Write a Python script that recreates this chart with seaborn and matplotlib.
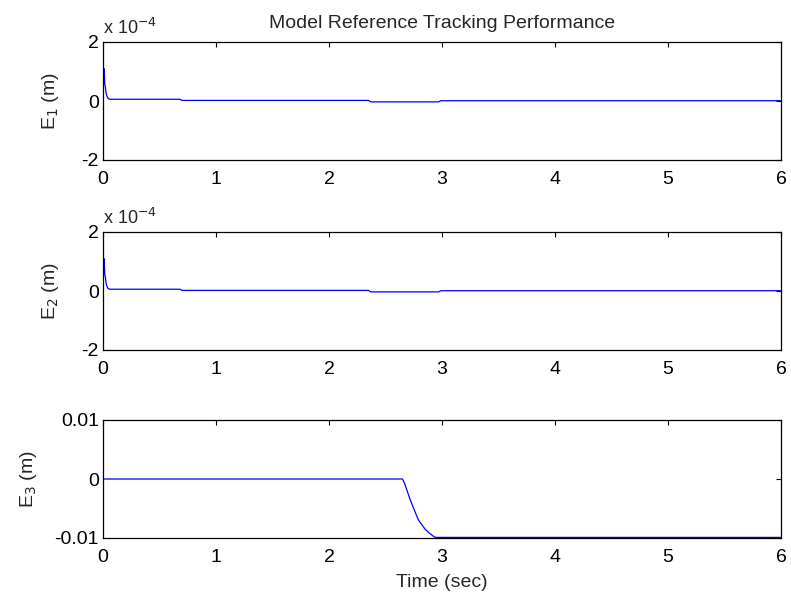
import numpy as np
import pandas as pd
import matplotlib
matplotlib.use("Agg")
import matplotlib.pyplot as plt
import seaborn as sns

sns.set_style("white")
plt.rcParams['font.family'] = ['Liberation Sans', 'DejaVu Sans']

# E1 / E2 (units of 1e-4 m)
t12 = [0.0, 0.008, 0.012, 0.016, 0.02, 0.026, 0.033, 0.042, 0.052, 0.065, 0.68, 0.70, 2.35, 2.37, 2.97, 2.99, 6.0]
e1 = [0.0, 1.1, 0.9, 0.55, 0.5, 0.3, 0.18, 0.1, 0.07, 0.06, 0.06, 0.02, 0.02, -0.03, -0.03, 0.01, 0.01]
e2 = [0.0, 1.1, 0.9, 0.55, 0.5, 0.3, 0.18, 0.1, 0.07, 0.06, 0.06, 0.02, 0.02, -0.03, -0.03, 0.01, 0.01]

# E3 (m)
t3 = [0.0, 2.65, 2.67, 2.72, 2.79, 2.85, 2.89, 2.93, 2.95, 6.0]
e3 = [0.0, 0.0, -0.0008, -0.0036, -0.0069, -0.0085, -0.0092, -0.0098, -0.0099, -0.0099]

xticks = [0, 1, 2, 3, 4, 5, 6]

fig = plt.figure(figsize=(7.91, 5.94), dpi=100)
W, H = 791, 594
left, right = 103 / W, 781 / W
boxes = [(42, 160), (232, 350), (420, 538)]
axes = []
for top, bot in boxes:
    axes.append(fig.add_axes([left, 1 - bot / H, right - left, (bot - top) / H]))

FS = 14
dfs = [pd.DataFrame({'t': t12, 'v': e1}), pd.DataFrame({'t': t12, 'v': e2}), pd.DataFrame({'t': t3, 'v': e3})]
for ax, df in zip(axes, dfs):
    sns.lineplot(data=df, x='t', y='v', ax=ax, color=(0, 0, 1), linewidth=0.9, estimator=None)
    ax.set_xlim(0, 6)
    ax.set_xticks(xticks)
    ax.set_xticklabels([str(x) for x in xticks])
    ax.tick_params(direction='in', length=3.5, width=0.8, top=True, right=True, labelsize=FS, colors='black')
    ax.tick_params(axis='x', pad=8)
    ax.tick_params(axis='y', pad=3)
    for s in ax.spines.values():
        s.set_color('black')
        s.set_linewidth(0.9)
    ax.set_xlabel('')

for ax, lab in zip(axes[:2], ['E$_1$ (m)', 'E$_2$ (m)']):
    ax.set_ylim(-2, 2)
    ax.set_yticks([-2, 0, 2])
    ax.set_yticklabels(['-2', '0', '2'])
    ax.set_ylabel(lab, fontsize=FS, labelpad=15)
    ax.text(0.0, 1.03, 'x 10$^{-4}$', transform=ax.transAxes, fontsize=13, ha='left', va='bottom')

axes[2].set_ylim(-0.01, 0.01)
axes[2].set_yticks([-0.01, 0, 0.01])
axes[2].set_yticklabels(['-0.01', '0', '0.01'])
axes[2].set_ylabel('E$_3$ (m)', fontsize=FS, labelpad=11)
axes[2].set_xlabel('Time (sec)', fontsize=FS, labelpad=6)

axes[0].set_title('Model Reference Tracking Performance', fontsize=14, pad=10)

fig.savefig('out.png', dpi=100)
